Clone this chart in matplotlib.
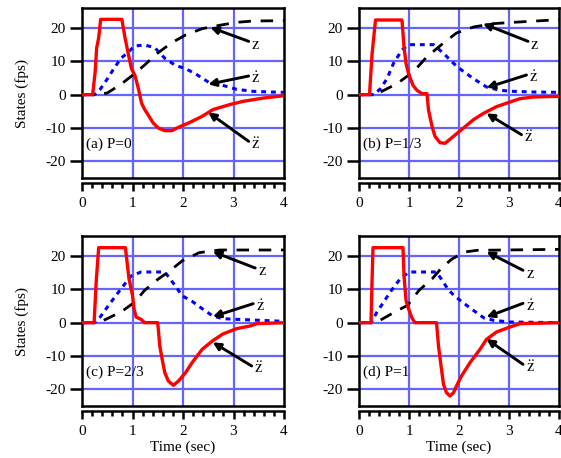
import matplotlib
matplotlib.use('Agg')
import matplotlib.pyplot as plt

plt.rcParams['font.family'] = ['Liberation Serif', 'DejaVu Serif']
plt.rcParams['mathtext.fontset'] = 'stix'

# ---------------- data ----------------
panel_labels = ['(a) P=0', '(b) P=1/3', '(c) P=2/3', '(d) P=1']

# acceleration (red)
acc_t = [
    [0, 0.21, 0.26, 0.29, 0.33, 0.37, 0.79, 0.85, 0.92, 0.98, 1.05, 1.12, 1.18, 1.24, 1.41, 1.51,
     1.64, 1.78, 1.91, 2.11, 2.38, 2.59, 2.92, 3.19, 3.6, 4.0],
    [0, 0.21, 0.26, 0.33, 0.86, 0.9, 0.94, 0.99, 1.08, 1.16, 1.26, 1.36, 1.39, 1.46, 1.52, 1.62,
     1.72, 1.89, 2.05, 2.29, 2.49, 2.75, 3.02, 3.22, 3.48, 4.0],
    [0, 0.24, 0.28, 0.33, 0.86, 0.93, 1.0, 1.03, 1.07, 1.17, 1.24, 1.5, 1.54, 1.6, 1.64, 1.71,
     1.81, 1.91, 2.05, 2.18, 2.38, 2.59, 2.79, 3.06, 3.33, 3.46, 4.0],
    [0, 0.24, 0.26, 0.28, 0.88, 0.9, 0.94, 0.99, 1.06, 1.12, 1.55, 1.59, 1.65, 1.69, 1.75, 1.82,
     1.89, 1.95, 2.05, 2.22, 2.42, 2.55, 2.75, 3.02, 3.22, 4.0],
]
acc_y = [
    [0, 0, 6.7, 14, 17, 22.6, 22.6, 17.2, 12, 7.8, 5.7, 1.6, -2.6, -4.4, -8.5, -10,
     -10.8, -10.8, -9.8, -8.5, -6.5, -4.5, -3, -2, -1, -0.3],
    [0, 0, 12, 22.4, 22.4, 14.4, 9.4, 6.4, 2.8, 1.3, 0.3, 0.3, -4.6, -9.5, -12.5, -14.4,
     -14.6, -12.5, -10.5, -7.5, -5.6, -3.6, -2.2, -1.2, -0.7, -0.5],
    [0, 0, 12, 22.5, 22.5, 13.2, 8.2, 4.2, 1.7, 1.0, 0, 0, -7, -12, -15, -17.5,
     -18.8, -17.5, -15, -12, -8, -5.4, -3.4, -1.8, -1.0, -0.3, 0],
    [0, 0, 12, 22.5, 22.5, 14.2, 6.7, 4.2, 1.4, 0, 0, -7, -14, -18.5, -21, -22,
     -21, -19, -16, -12, -8, -5, -2.8, -1.3, -0.3, 0],
]

# velocity (blue dotted)
vel_t = [
    [0, 0.25, 0.36, 0.5, 0.63, 0.77, 0.9, 1.04, 1.24, 1.44, 1.64, 1.85, 2.05, 2.25, 2.52, 2.72,
     3.06, 3.39, 3.73, 4.0],
    [0, 0.3, 0.43, 0.56, 0.69, 0.86, 0.99, 1.49, 1.69, 1.89, 2.05, 2.29, 2.55, 2.82, 3.08, 3.48, 4.0],
    [0, 0.25, 0.36, 0.57, 0.77, 0.97, 1.17, 1.64, 1.85, 1.98, 2.18, 2.38, 2.59, 2.79, 3.06, 4.0],
    [0, 0.24, 0.36, 0.49, 0.62, 0.82, 1.0, 1.55, 1.65, 1.78, 1.91, 2.04, 2.24, 2.5, 2.7, 3.0, 4.0],
]
vel_y = [
    [0, 0, 1.6, 4.7, 7.8, 10.9, 12.5, 14.6, 14.9, 14.1, 10.9, 8.8, 7.8, 6.25, 3.6, 3.1,
     1.6, 1.0, 0.8, 0.7],
    [0, 0, 1.8, 4.8, 9.4, 13.4, 15, 15, 12.4, 9.4, 7.4, 4.8, 2.3, 1.3, 1.0, 0.8, 0.7],
    [0, 0, 1.7, 6.1, 10.1, 14, 15.2, 15.2, 11, 8.1, 6.4, 4.2, 2.0, 1.2, 1.0, 0.4],
    [0, 0, 3.2, 6.1, 9.1, 13.1, 15.2, 15.2, 13, 10, 8, 6.5, 4.2, 1.4, 0.7, 0.2, 0],
]

# position (black dashed)
pos_t = [
    [0, 0.3, 0.5, 0.77, 1.0, 1.24, 1.5, 1.78, 2.05, 2.38, 2.72, 3.06, 3.39, 4.0],
    [0, 0.3, 0.43, 0.76, 1.09, 1.36, 1.69, 1.95, 2.29, 2.68, 3.08, 4.0],
    [0, 0.3, 0.43, 0.77, 1.04, 1.24, 1.51, 1.71, 1.98, 2.32, 2.72, 4.0],
    [0, 0.3, 0.42, 0.74, 0.97, 1.2, 1.46, 1.65, 1.85, 2.11, 2.36, 4.0],
]
pos_y = [
    [0, 0, 0.5, 3.1, 5.8, 8.9, 12.5, 15.6, 17.9, 19.8, 20.8, 21.7, 22.1, 22.2],
    [0, 0, 0.8, 3.3, 6.9, 11.4, 15.5, 18.5, 20.3, 21.3, 21.7, 22.5],
    [0, 0, 0.7, 3.2, 6.1, 9.7, 13.1, 15.2, 18.5, 21, 21.8, 21.8],
    [0, 0, 0.7, 3.4, 5.2, 9.7, 13.1, 16.4, 19, 21.2, 21.7, 22],
]

# annotation arrows: (tip_x, tip_y, tail_x, tail_y) for z, z-dot, z-ddot
ann_z = [(2.54, 20.2, 3.3, 16.0), (2.48, 21.3, 3.38, 16.0), (2.59, 21.3, 3.43, 16.4), (2.55, 21.3, 3.28, 15.7)]
ann_zd = [(2.5, 3.1, 3.3, 5.6), (2.55, 2.1, 3.35, 5.9), (2.59, 1.8, 3.39, 5.7), (2.55, 1.7, 3.28, 5.8)]
ann_zdd = [(2.5, -5.3, 3.3, -14.0), (2.55, -5.6, 3.25, -12.0), (2.59, -5.9, 3.36, -13.0), (2.55, -4.9, 3.28, -12.5)]
ann_text = [r'$\mathrm{z}$', r'$\dot{\mathrm{z}}$', r'$\ddot{\mathrm{z}}$']

x_ticks = [0, 1, 2, 3, 4]
y_ticks = [-20, -10, 0, 10, 20]

# ---------------- layout ----------------
W, H = 561, 458
fig = plt.figure(figsize=(W / 100, H / 100), dpi=100)

boxes = [(82, 284, 8, 178), (359, 559, 8, 178), (82, 284, 236, 406), (359, 559, 236, 406)]

grid_col = '#6464ff'
fs = 11

for i, (l, r, t, b) in enumerate(boxes):
    ax = fig.add_axes([l / W, 1 - b / H, (r - l) / W, (b - t) / H])
    ax.set_xlim(0, 4)
    ax.set_ylim(-25, 26)
    ax.set_xticks(x_ticks)
    ax.set_xticks([k * 0.2 for k in range(21)], minor=True)
    ax.set_yticks(y_ticks)
    ax.set_yticklabels([str(v) for v in y_ticks])
    for v in [1, 2, 3]:
        ax.axvline(v, color=grid_col, lw=1.6, zorder=1)
    for v in y_ticks:
        ax.axhline(v, color=grid_col, lw=1.6, zorder=1)

    ax.plot(vel_t[i], vel_y[i], color='#0000ff', lw=2.2, dashes=(1.6, 1.6), zorder=3)
    ax.plot(pos_t[i], pos_y[i], color='black', lw=2.0, dashes=(4.5, 3.5), zorder=3)
    ax.plot(acc_t[i], acc_y[i], color='#ff0000', lw=2.4, zorder=4)

    for k, ann in enumerate([ann_z[i], ann_zd[i], ann_zdd[i]]):
        tx, ty, sx, sy = ann
        ax.annotate('', xy=(tx, ty), xytext=(sx, sy),
                    arrowprops=dict(arrowstyle='-|>', color='black', lw=2.1,
                                    mutation_scale=11, shrinkA=0, shrinkB=0),
                    zorder=5)
        ax.text(sx + 0.05, sy - 1.0, ann_text[k], fontsize=12, ha='left', va='center', zorder=6)

    ax.text(0.08, -15, panel_labels[i], fontsize=fs, ha='left', va='center')

    for s in ['left', 'top', 'right', 'bottom']:
        ax.spines[s].set_linewidth(1.8)
    ax.spines['bottom'].set_position(('outward', 3.5))
    ax.plot([0, 1], [0, 0], transform=ax.transAxes, color='black', lw=1.8,
            clip_on=False, zorder=6)
    ax.tick_params(axis='x', which='major', direction='out', length=6, width=1.8,
                   labelsize=fs, pad=4)
    ax.tick_params(axis='x', which='minor', direction='out', length=3.5, width=1.8)
    ax.tick_params(axis='y', which='major', direction='out', length=8.5, width=1.8,
                   labelsize=fs, pad=3)
    ax.tick_params(axis='y', which='minor', left=False)

    if i in (0, 2):
        ax.set_ylabel('States (fps)', fontsize=fs, labelpad=12)
    if i in (2, 3):
        ax.set_xlabel('Time (sec)', fontsize=fs, labelpad=2)

fig.savefig('out.png', dpi=100)
